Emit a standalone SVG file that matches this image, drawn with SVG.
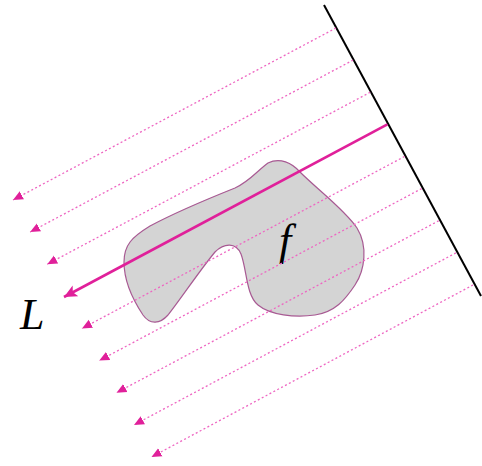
<svg xmlns="http://www.w3.org/2000/svg" width="482" height="466" viewBox="0 0 482 466">
<defs>
<style>
.ray{stroke:#ee66c2;stroke-width:1.3;stroke-dasharray:2,2.4;fill:none}
.L{stroke:#e0209a;stroke-width:2.6;fill:none}
.lab{font-family:"Liberation Serif",serif;font-style:italic;fill:#000}
</style>
<marker id="ah" markerUnits="userSpaceOnUse" markerWidth="10" markerHeight="10" viewBox="0 0 10 10" refX="10" refY="5" orient="auto">
<path d="M0,0.5 L10,5 L0,9.5 z" fill="#e0209a"/>
</marker>
<marker id="ahL" markerUnits="userSpaceOnUse" markerWidth="14" markerHeight="14" viewBox="0 0 14 14" refX="13" refY="7" orient="auto">
<path d="M0,1 L13,7 L0,13 L3,7 z" fill="#e0209a"/>
</marker>
</defs>
<g id="plane">
<line x1="324" y1="5" x2="481" y2="296" stroke="#000" stroke-width="2"/>
</g>
<g id="object-f">
<path d="M268,163 C280,157 292,163 300,172 C318,190 345,210 357,228 C368,246 365,270 355,285 C345,300 335,312 315,315 C295,318 270,315 258,305 C246,295 247,270 241,254 C236,242 224,243 215,252 C200,270 180,300 168,315 C160,324 150,325 143,315 C133,300 124,280 124,262 C124,245 132,237 150,226 C180,210 215,196 235,188 C250,181 258,170 268,163 Z" fill="#d4d4d4" stroke="#a85a93" stroke-width="1.2"/>
<text class="lab" x="279" y="255" font-size="44">f</text>
</g>
<g id="connectors">
<line class="ray" x1="336" y1="28" x2="13" y2="200" marker-end="url(#ah)"/>
<line class="ray" x1="353.1" y1="60.1" x2="30.1" y2="232.1" marker-end="url(#ah)"/>
<line class="ray" x1="370.25" y1="92.25" x2="47.25" y2="264.25" marker-end="url(#ah)"/>
<line class="ray" x1="404.5" y1="156.5" x2="82" y2="328.5" marker-end="url(#ah)"/>
<line class="ray" x1="421.6" y1="188.6" x2="99.3" y2="360.6" marker-end="url(#ah)"/>
<line class="ray" x1="438.75" y1="220.75" x2="116.5" y2="392.75" marker-end="url(#ah)"/>
<line class="ray" x1="455.9" y1="252.9" x2="134" y2="424.9" marker-end="url(#ah)"/>
<line class="ray" x1="473" y1="285" x2="151.5" y2="457" marker-end="url(#ah)"/>
<line class="L" x1="387.4" y1="124.4" x2="64" y2="297" marker-end="url(#ahL)"/>
</g>
<g id="label-L">
<text class="lab" x="20" y="329" font-size="44">L</text>
</g>
</svg>
